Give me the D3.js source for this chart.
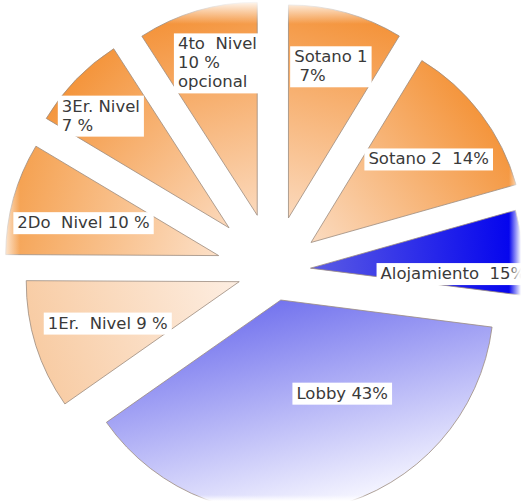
<!DOCTYPE html>
<html>
<head>
<meta charset="utf-8">
<script src="https://cdn.jsdelivr.net/npm/d3@7"></script>
<style>
  body { margin: 0; background: #fff; }
  #chart svg { display: block; }
  .slice-label { font-family: "DejaVu Sans", Verdana, sans-serif; font-size: 16.5px; fill: #3a3a3a; white-space: pre; }
</style>
</head>
<body>
<div id="chart"></div>
<script>
// slices, clockwise from 12 o'clock
var categories = ['Sotano 1', 'Sotano 2', 'Alojamiento', 'Lobby', '1Er. Nivel', '2Do Nivel', '3Er. Nivel', '4to Nivel'];
// share of the circle each slice takes in the picture
var shares = [8.7, 11.9, 6.4, 38.2, 9.8, 8.5, 7.3, 9.1];
// label text as printed on the chart
var labelLines = [
    ['Sotano 1', ' 7%'],
    ['Sotano 2  14%'],
    ['Alojamiento  15%'],
    ['Lobby 43%'],
    ['1Er.  Nivel 9 %'],
    ['2Do  Nivel 10 %'],
    ['3Er. Nivel', '7 %'],
    ['4to  Nivel', '10 %', 'opcional'],
];

// styling / layout
var explode = [55, 47, 37, 30, 36, 57, 62, 58];
var labelDist = [157, 144, 143, 112, 138, 139, 170, 157];
var labelTurn = [0, 2, 6.6, -19.4, -0.3, -2.1, -3, 1.7];
var innerColors = ['#fbd9bc', '#fbdbc0', '#5c5ce4', '#7474ee', '#fdeee2', '#fce0c8', '#fbd9bc', '#fbd9bc'];
var outerColors = ['#f4933a', '#f4953c', '#0000ee', '#f6f6ff', '#f8cca4', '#f5a252', '#f4953c', '#f4933a'];

var width = 521,
    height = 501,
    radius = 213,
    cx = 273.6,
    cy = 270.9;

var svg = d3
    .select('#chart')
    .append('svg')
    .attr('width', width)
    .attr('height', height);

var defs = svg.append('defs');

var pie = d3
    .pie()
    .sort(null)
    .value(function(d) {
        return d;
    });

var arcs = pie(shares);

var path = d3
    .arc()
    .outerRadius(radius)
    .innerRadius(0);

function mid(d) {
    return (d.startAngle + d.endAngle) / 2;
}

arcs.forEach(function(d, i) {
    var a = mid(d);
    defs.append('linearGradient')
        .attr('id', 'grad' + i)
        .attr('gradientUnits', 'userSpaceOnUse')
        .attr('x1', 0)
        .attr('y1', 0)
        .attr('x2', Math.sin(a) * radius)
        .attr('y2', -Math.cos(a) * radius)
        .call(function(g) {
            g.append('stop').attr('offset', '0%').attr('stop-color', innerColors[i]);
            g.append('stop').attr('offset', '100%').attr('stop-color', outerColors[i]);
        });
});

var g = svg.append('g').attr('transform', 'translate(' + cx + ',' + cy + ')');

var slice = g
    .selectAll('.arc')
    .data(arcs)
    .enter()
    .append('g')
    .attr('class', 'arc')
    .attr('transform', function(d, i) {
        var a = mid(d);
        return 'translate(' + Math.sin(a) * explode[i] + ',' + -Math.cos(a) * explode[i] + ')';
    });

slice
    .append('path')
    .attr('d', path)
    .attr('fill', function(d, i) {
        return 'url(#grad' + i + ')';
    })
    .attr('stroke', '#9c8c80')
    .attr('stroke-opacity', 0.8)
    .attr('stroke-width', 1);

// labels: white boxes sitting on each slice
var lineH = 19;
slice.each(function(d, i) {
    var a = mid(d) + labelTurn[i] * Math.PI / 180;
    var lx = Math.sin(a) * labelDist[i];
    var ly = -Math.cos(a) * labelDist[i];
    var lab = d3.select(this).append('g').attr('class', 'label');
    var box = lab.append('rect').attr('fill', '#fff');
    var text = lab.append('text').attr('class', 'slice-label');
    labelLines[i].forEach(function(line, k) {
        text.append('tspan')
            .attr('x', 0)
            .attr('y', k * lineH)
            .text(line);
    });
    var bb = text.node().getBBox();
    var w = bb.width + 8,
        h = labelLines[i].length * lineH + 3;
    var bx = lx - w / 2,
        by = ly - h / 2;
    box.attr('x', bx).attr('y', by).attr('width', w).attr('height', h);
    text.attr('transform', 'translate(' + (bx + 4) + ',' + (by + 16) + ')');
});

// soft white fade along the picture edges
var fades = [
    { id: 'fadeL', x1: 0, y1: 0, x2: 1, y2: 0, x: 0, y: 0, w: 20, h: height },
    { id: 'fadeR', x1: 1, y1: 0, x2: 0, y2: 0, x: width - 12, y: 0, w: 12, h: height },
    { id: 'fadeT', x1: 0, y1: 0, x2: 0, y2: 1, x: 0, y: 0, w: width, h: 24 },
    { id: 'fadeB', x1: 0, y1: 1, x2: 0, y2: 0, x: 0, y: height - 6, w: width, h: 6 },
];
fades.forEach(function(f) {
    var lg = defs.append('linearGradient')
        .attr('id', f.id)
        .attr('x1', f.x1).attr('y1', f.y1)
        .attr('x2', f.x2).attr('y2', f.y2);
    lg.append('stop').attr('offset', '0%').attr('stop-color', '#fff').attr('stop-opacity', 1);
    lg.append('stop').attr('offset', '100%').attr('stop-color', '#fff').attr('stop-opacity', 0);
    svg.append('rect')
        .attr('x', f.x).attr('y', f.y)
        .attr('width', f.w).attr('height', f.h)
        .attr('fill', 'url(#' + f.id + ')');
});
</script>
</body>
</html>
